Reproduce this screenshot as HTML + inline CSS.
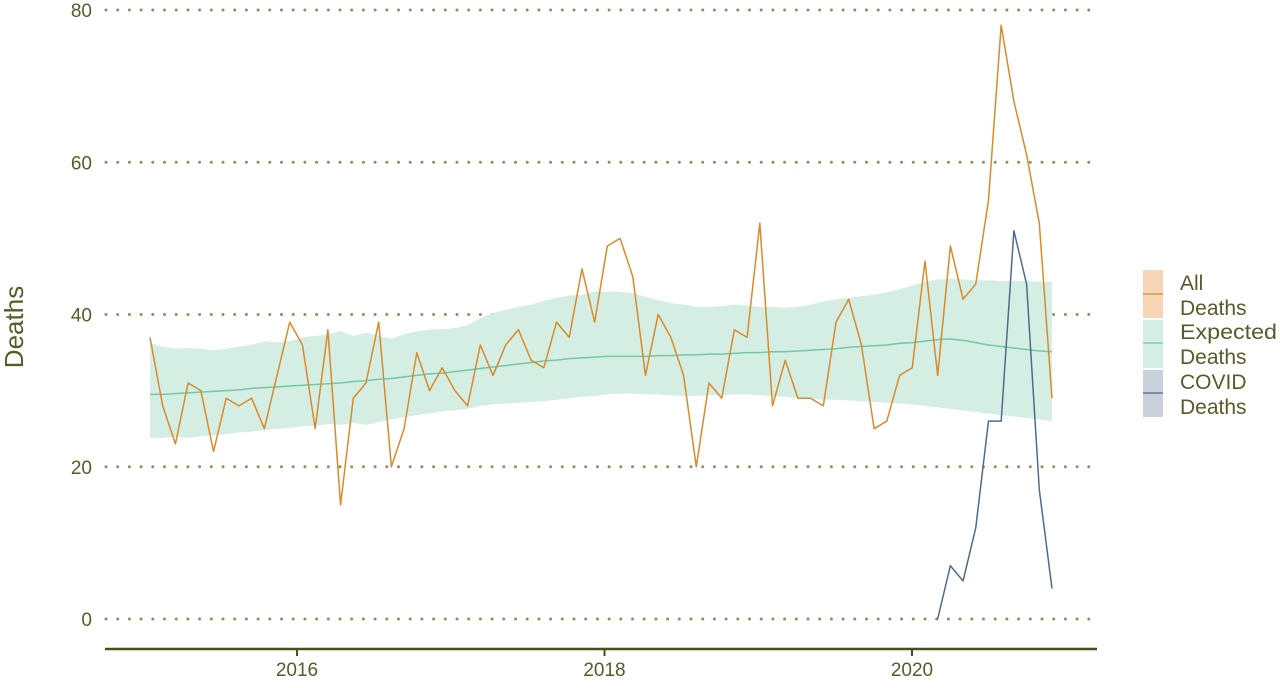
<!DOCTYPE html>
<html><head><meta charset="utf-8"><style>
body{margin:0;background:#fff;width:1280px;height:683px;overflow:hidden;font-family:"Liberation Sans",sans-serif}
svg text{font-family:"Liberation Sans",sans-serif;fill:#5a5a28}
</style></head><body>
<svg id="chart" width="1280" height="683" xmlns="http://www.w3.org/2000/svg">
<g id="grid"></g>
<g id="band"></g>
<g id="lines"></g>
<g id="axes"></g>
<text transform="translate(23,327) rotate(-90)" text-anchor="middle" font-size="26">Deaths</text>
<g>
 <g>
  <rect x="1143" y="270" width="20" height="48" fill="#f6d6b6"/>
  <line x1="1143" y1="294" x2="1163" y2="294" stroke="#d98a2b" stroke-width="1.3"/>
  <text x="1180" y="290" font-size="21">All</text>
  <text x="1180" y="315" font-size="21">Deaths</text>
 </g>
 <g>
  <rect x="1143" y="320" width="20" height="48" fill="#d5eee3"/>
  <line x1="1143" y1="343" x2="1163" y2="343" stroke="#6fc8a3" stroke-width="1.3"/>
  <text x="1180" y="339" font-size="21" textLength="97" lengthAdjust="spacingAndGlyphs">Expected</text>
  <text x="1180" y="364" font-size="21">Deaths</text>
 </g>
 <g>
  <rect x="1143" y="370" width="20" height="47" fill="#c9d1dc"/>
  <line x1="1143" y1="393" x2="1163" y2="393" stroke="#4f6a8a" stroke-width="1.3"/>
  <text x="1180" y="389" font-size="21">COVID</text>
  <text x="1180" y="414" font-size="21">Deaths</text>
 </g>
</g>
</svg>
<script>
const allDeaths=[37,28,23,31,30,22,29,28,29,25,32,39,
36,25,38,15,29,31,39,20,25,35,30,33,
30,28,36,32,36,38,34,33,39,37,46,39,
49,50,45,32,40,37,32,20,31,29,38,37,
52,28,34,29,29,28,39,42,36,25,26,32,
33,47,32,49,42,44,55,78,68,61,52,29];
const expected=[29.5,29.5,29.6,29.7,29.8,29.9,30.0,30.1,30.3,30.4,30.5,30.6,
30.7,30.8,30.9,31.0,31.2,31.3,31.5,31.6,31.8,32.0,32.2,32.3,
32.5,32.7,32.9,33.1,33.3,33.5,33.7,33.9,34.0,34.2,34.3,34.4,
34.5,34.5,34.5,34.5,34.6,34.6,34.7,34.7,34.8,34.8,34.9,35.0,
35.0,35.1,35.1,35.2,35.3,35.4,35.5,35.7,35.8,35.9,36.0,36.2,
36.3,36.5,36.7,36.8,36.6,36.3,36.0,35.8,35.6,35.4,35.2,35.1];
const upper=[36.2,35.8,35.5,35.6,35.5,35.3,35.5,35.8,36.0,36.5,36.3,36.5,
37.0,37.2,37.4,37.8,37.2,37.6,37.2,36.8,37.4,37.8,38.0,38.1,
38.2,38.6,39.5,40.2,40.6,41.0,41.3,41.8,42.2,42.5,42.6,43.0,
43.0,43.0,42.8,42.3,41.9,41.5,41.3,41.0,41.0,41.1,41.3,41.2,
41.0,41.0,40.9,41.0,41.3,41.7,42.0,42.2,42.4,42.6,42.9,43.3,
43.8,44.3,44.6,44.7,44.6,44.5,44.5,44.4,44.4,44.4,44.3,44.3];
const lower=[23.8,23.8,23.9,23.8,24.0,24.1,24.3,24.5,24.6,24.8,25.0,25.1,
25.3,25.4,25.6,25.5,25.8,25.5,25.9,26.2,26.5,26.8,27.0,27.3,
27.4,27.6,28.0,28.2,28.3,28.4,28.5,28.6,28.8,29.0,29.2,29.3,
29.5,29.6,29.6,29.5,29.5,29.4,29.3,29.3,29.4,29.4,29.5,29.5,
29.4,29.3,29.2,29.0,28.9,28.8,28.8,28.7,28.6,28.5,28.4,28.3,
28.2,28.0,27.8,27.6,27.4,27.2,27.0,26.8,26.6,26.4,26.2,26.0];
const covidStart=62;
const covidDeaths=[0,7,5,12,26,26,51,44,17,4];
const yTicks=[0,20,40,60,80];
const xTickYears=[2016,2018,2020];

const NS='http://www.w3.org/2000/svg';
function xPos(i){return 150+i*(1052-150)/71;}
function xYear(y){return 297+(y-2016)*153.75;}
function yPos(v){return 619-v*(609/80);}
function mk(tag,attrs,parent){const e=document.createElementNS(NS,tag);for(const k in attrs)e.setAttribute(k,attrs[k]);parent.appendChild(e);return e;}
const grid=document.getElementById('grid'),band=document.getElementById('band'),lines=document.getElementById('lines'),axes=document.getElementById('axes');
yTicks.forEach(t=>{
 const l=mk('line',{x1:106,x2:1097,y1:yPos(t),y2:yPos(t),stroke:'#8f8f5c','stroke-width':3,'stroke-dasharray':'0 11.7','stroke-linecap':'round'},grid);
 
 
 const tx=mk('text',{x:92,y:yPos(t)+7,'text-anchor':'end','font-size':19},axes);tx.textContent=t;
 
 
});
let d='';upper.forEach((v,i)=>{d+=(i?'L':'M')+xPos(i)+','+yPos(v);});
for(let i=lower.length-1;i>=0;i--)d+='L'+xPos(i)+','+yPos(lower[i]);
const bp=mk('path',{d:d+'Z',fill:'#d5eee3'},band);


function line(arr,off,color,name){
 const p=mk('polyline',{points:arr.map((v,i)=>xPos(i+off)+','+yPos(v)).join(' '),fill:'none',stroke:color,'stroke-width':1.5,'stroke-linejoin':'round'},lines);
 
 
}
line(expected,0,'#72c9a4','expected-deaths-line');
line(allDeaths,0,'#d98a2b','all-deaths-line');
line(covidDeaths,covidStart,'#4f6a8a','covid-deaths-line');
const ax=mk('line',{x1:105,x2:1097,y1:649,y2:649,stroke:'#4d4d1c','stroke-width':2.4},axes);


xTickYears.forEach(yr=>{
 const tk=mk('line',{x1:xYear(yr),x2:xYear(yr),y1:649,y2:656,stroke:'#4d4d1c','stroke-width':2},axes);
 
 
 const tx=mk('text',{x:xYear(yr),y:676,'text-anchor':'middle','font-size':19},axes);tx.textContent=yr;
 
 
});
</script>
</body></html>
